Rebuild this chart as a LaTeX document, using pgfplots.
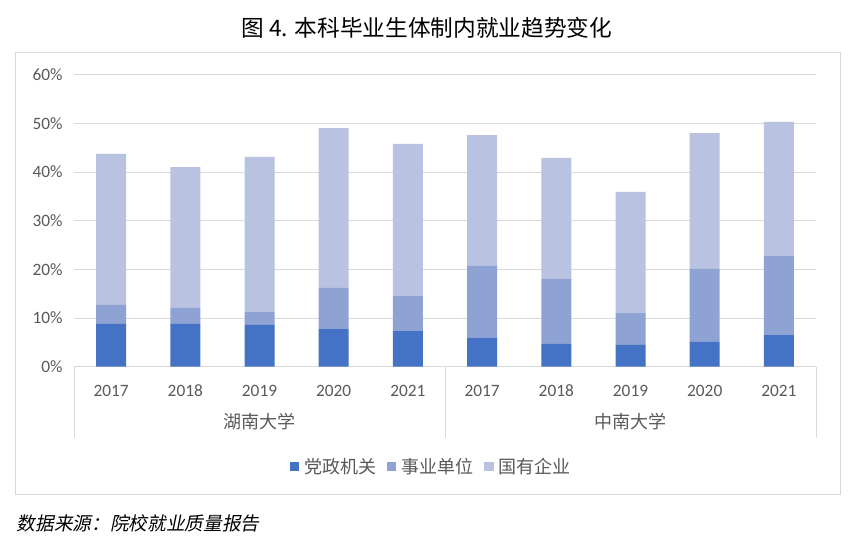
\documentclass[border=0pt]{standalone}
\usepackage{fontspec}
\setmainfont{Carlito}
\newfontfamily\cjk{Noto Sans CJK SC}
\newfontfamily\cjkit[FakeSlant=0.2]{Noto Sans CJK SC}
\usepackage{pgfplots}
\pgfplotsset{compat=1.18}
\usepackage{pgfplotstable}
\definecolor{c1}{HTML}{4472C4}
\definecolor{c2}{HTML}{8FA2D4}
\definecolor{c3}{HTML}{B9C3E1}
\definecolor{gridc}{HTML}{D9D9D9}
\definecolor{txt}{HTML}{595959}

\pgfplotstableread{
x a b c
0 8.8 3.9 31.0
1 8.8 3.3 28.9
2 8.6 2.6 31.9
3 7.7 8.5 32.8
4 7.3 7.2 31.3
5 5.9 14.8 26.9
6 4.7 13.3 24.9
7 4.5 6.5 24.9
8 5.1 15.0 27.9
9 6.5 16.2 27.6
}\data

\begin{document}
\begin{tikzpicture}
\path[use as bounding box] (0,0) rectangle (651pt,415.5pt);
\draw[gridc, line width=0.75pt] (11.25pt,45pt) rectangle (630pt,376pt);
\node[font=\cjk\fontsize{17}{20}\selectfont] at (320pt,394.5pt) {图 4. 本科毕业生体制内就业趋势变化};
\node[anchor=west, font=\cjkit\fontsize{14}{16}\selectfont] at (9pt,23pt) {数据来源：院校就业质量报告};
\begin{axis}[
  at={(55.5pt,140.5pt)}, anchor=south west,
  scale only axis, width=556.5pt, height=219pt,
  ybar stacked, bar width=22.5pt,
  xmin=-0.5, xmax=9.5, ymin=0, ymax=60,
  ytick={0,10,...,60},
  yticklabel={\pgfmathprintnumber{\tick}\%},
  xtick=data,
  xticklabels={2017,2018,2019,2020,2021,2017,2018,2019,2020,2021},
  major tick length=0pt,
  /pgf/number format/assume math mode=true,
  ticklabel style={font=\fontsize{13}{15}\selectfont, text=txt},
  yticklabel style={xshift=-5pt},
  xticklabel style={anchor=base, yshift=-22.5pt},
  ymajorgrids, grid style={gridc, line width=0.75pt},
  axis x line*=bottom, axis y line*=left,
  y axis line style={draw=none},
  x axis line style={draw=gridc, line width=0.75pt},
  clip=false,
  legend style={at={(0.482,-0.342)}, anchor=center, draw=none, fill=none,
    legend columns=3, font=\cjk\fontsize{13.5}{15}\selectfont, text=txt,
    /tikz/every odd column/.append style={column sep=2pt},
    /tikz/every even column/.append style={column sep=6pt}},
  legend image code/.code={\fill[#1] (0pt,-3.5pt) rectangle (7pt,3.5pt);},
]
\addplot[fill=c1, draw=none] table[x=x, y=a] {\data};
\addplot[fill=c2, draw=none] table[x=x, y=b] {\data};
\addplot[fill=c3, draw=none] table[x=x, y=c] {\data};
\legend{党政机关,事业单位,国有企业}
\draw[gridc, line width=0.75pt] (axis cs:-0.5,0) -- ++(0pt,-53.5pt);
\draw[gridc, line width=0.75pt] (axis cs:4.5,0) -- ++(0pt,-53.5pt);
\draw[gridc, line width=0.75pt] (axis cs:9.5,0) -- ++(0pt,-53.5pt);
\node[font=\cjk\fontsize{13.5}{15}\selectfont, text=txt] at ([yshift=-41.5pt]axis cs:2,0) {湖南大学};
\node[font=\cjk\fontsize{13.5}{15}\selectfont, text=txt] at ([yshift=-41.5pt]axis cs:7,0) {中南大学};
\end{axis}
\end{tikzpicture}
\end{document}
